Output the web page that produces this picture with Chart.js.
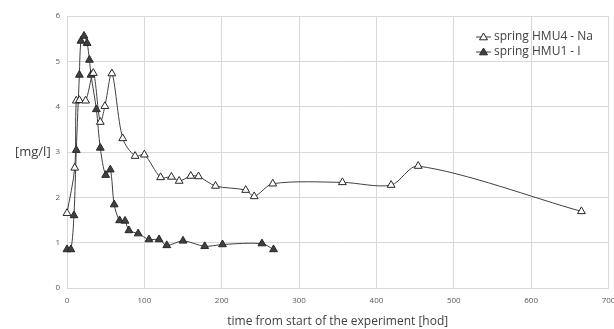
<!DOCTYPE html>
<html lang="en">
  <head>
    <meta charset="UTF-8" />
    <title>HMU springs</title>
    <script src="https://cdn.jsdelivr.net/npm/chart.js"></script>
    <style>
      body { margin: 0; background: #fff; }
      #wrap { width: 614px; height: 329px; }
    </style>
  </head>
  <body>
    <div id="wrap"><canvas id="myChart"></canvas></div>
    <script>
      // spring HMU4 - Na (open triangles)
      var naX = [0, 10, 12, 16, 24, 34, 43, 49, 58, 72, 88, 100, 121, 135, 145, 160, 170, 192, 231, 242, 266, 356, 419, 454, 665];
      var naY = [1.65, 2.65, 4.13, 4.14, 4.13, 4.74, 3.66, 4.01, 4.73, 3.30, 2.91, 2.94, 2.44, 2.45, 2.36, 2.47, 2.46, 2.25, 2.16, 2.02, 2.30, 2.33, 2.27, 2.69, 1.69];

      // spring HMU1 - I (filled triangles)
      var iX = [0, 5, 9, 12, 16, 18, 22, 26, 29, 31, 38, 43, 50, 56, 61, 68, 75, 80, 92, 106, 119, 129, 150, 178, 201, 252, 267];
      var iY = [0.85, 0.85, 1.60, 3.04, 4.70, 5.45, 5.56, 5.40, 5.03, 4.70, 3.94, 3.09, 2.49, 2.61, 1.84, 1.49, 1.48, 1.27, 1.20, 1.07, 1.07, 0.94, 1.04, 0.92, 0.96, 0.98, 0.85];

      var seriesNames = ["spring HMU4 - Na", "spring HMU1 - I"];

      function toPoints(xs, ys) {
        return xs.map(function (x, i) { return { x: x, y: ys[i] }; });
      }

      // y title is horizontal in the original, plus a small custom legend
      var extras = {
        id: "extras",
        afterDraw: function (chart) {
          var ctx = chart.ctx;
          ctx.save();
          ctx.fillStyle = "#404040";
          ctx.font = "13px 'Open Sans', sans-serif";
          ctx.textAlign = "left";
          ctx.textBaseline = "middle";
          ctx.fillText("[mg/l]", 15, chart.scales.y.getPixelForValue(3));

          var sets = chart.data.datasets;
          for (var i = 0; i < sets.length; i++) {
            var y = 37 + i * 15;
            var cx = 483.5, r = 4;
            ctx.strokeStyle = "#404040";
            ctx.lineWidth = 1;
            ctx.beginPath();
            ctx.moveTo(476, y);
            ctx.lineTo(491, y);
            ctx.stroke();
            ctx.fillStyle = sets[i].pointBackgroundColor;
            ctx.strokeStyle = "#262626";
            ctx.beginPath();
            ctx.moveTo(cx, y - r);
            ctx.lineTo(cx + r, y + r * 0.7);
            ctx.lineTo(cx - r, y + r * 0.7);
            ctx.closePath();
            ctx.fill();
            ctx.stroke();
            ctx.fillStyle = "#404040";
            ctx.font = "12px 'Open Sans', sans-serif";
            ctx.fillText(sets[i].label, 494, y);
          }
          ctx.restore();
        }
      };

      var ctx = document.getElementById("myChart").getContext("2d");
      window.myChart = new Chart(ctx, {
        type: "scatter",
        data: {
          datasets: [
            {
              label: seriesNames[0],
              data: toPoints(naX, naY),
              showLine: true,
              clip: false,
              borderColor: "#404040",
              borderWidth: 1,
              tension: 0.3,
              pointStyle: "triangle",
              pointRadius: 4.5,
              pointBackgroundColor: "#ffffff",
              pointBorderColor: "#262626",
              pointBorderWidth: 1
            },
            {
              label: seriesNames[1],
              data: toPoints(iX, iY),
              showLine: true,
              clip: false,
              borderColor: "#404040",
              borderWidth: 1,
              tension: 0.3,
              pointStyle: "triangle",
              pointRadius: 4.5,
              pointBackgroundColor: "#404040",
              pointBorderColor: "#262626",
              pointBorderWidth: 1
            }
          ]
        },
        options: {
          responsive: true,
          maintainAspectRatio: false,
          animation: false,
          layout: { padding: { left: 0, right: 5, top: 16, bottom: 0 } },
          scales: {
            x: {
              type: "linear",
              min: 0,
              max: 700,
              ticks: {
                stepSize: 100,
                color: "#595959",
                font: { size: 8, family: "'Open Sans', sans-serif" },
                padding: 8,
                maxRotation: 0
              },
              grid: { color: "#d9d9d9", drawTicks: false },
              border: { color: "#d9d9d9" },
              title: {
                display: true,
                text: "time from start of the experiment [hod]",
                color: "#404040",
                font: { size: 12, family: "'Open Sans', sans-serif" },
                padding: { top: 8, bottom: 0 }
              },
              afterFit: function (scale) {
                scale.height = 41;
                scale.paddingLeft = 0;
                scale.paddingRight = 0;
              }
            },
            y: {
              min: 0,
              max: 6,
              ticks: {
                stepSize: 1,
                color: "#595959",
                font: { size: 8, family: "'Open Sans', sans-serif" },
                padding: 7
              },
              grid: { color: "#d9d9d9", drawTicks: false },
              border: { color: "#d9d9d9" },
              afterFit: function (scale) {
                scale.width = 67;
                scale.paddingTop = 0;
                scale.paddingBottom = 0;
              }
            }
          },
          plugins: {
            legend: { display: false },
            tooltip: { enabled: false }
          }
        },
        plugins: [extras]
      });
    </script>
  </body>
</html>
